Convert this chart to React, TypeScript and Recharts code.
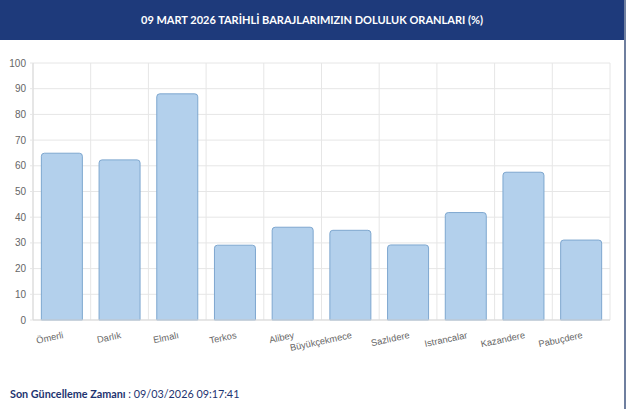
import React from "react";
import { BarChart, Bar, XAxis, YAxis, CartesianGrid } from "recharts";

const dams = ["Ömerli", "Darlık", "Elmalı", "Terkos", "Alibey", "Büyükçekmece", "Sazlıdere", "Istrancalar", "Kazandere", "Pabuçdere"];
const fillRates = [64.9, 62.3, 88.0, 29.1, 36.1, 34.9, 29.2, 41.8, 57.5, 31.1];
const yTicks = [0, 10, 20, 30, 40, 50, 60, 70, 80, 90, 100];
const title = "09 MART 2026 TARİHLİ BARAJLARIMIZIN DOLULUK ORANLARI (%)";
const updateLabel = "Son Güncelleme Zamanı";
const updateValue = "09/03/2026 09:17:41";

const data = dams.map((name, i) => ({ name, value: fillRates[i] }));

const XTick = (props: any) => {
  const { x, y, payload } = props;
  return (
    <text
      x={0}
      y={0}
      textAnchor="end"
      fontSize={9.3}
      fill="#666"
      fontFamily="'Liberation Sans', Arial, sans-serif"
      transform={`translate(${x + 2},${y + 11}) rotate(-12)`}
    >
      {payload.value}
    </text>
  );
};

export default function App() {
  const n = dams.length;
  return (
    <div style={{ position: "fixed", left: 0, top: 0, width: 640, height: 409, background: "#fff", overflow: "hidden" }}>
      <div style={{ position: "absolute", left: 0, top: 0 }}>
        <BarChart
          width={640}
          height={409}
          data={data}
          margin={{ top: 63, right: 30, bottom: 49, left: 0 }}
          barCategoryGap="14.5%"
        >
          <CartesianGrid
            stroke="#e6e6e6"
            verticalCoordinatesGenerator={({ offset }: any) =>
              Array.from({ length: n + 1 }, (_, i) => offset.left + (i * offset.width) / n)
            }
          />
          <XAxis
            dataKey="name"
            height={40}
            interval={0}
            tickLine={false}
            tickSize={5}
            tickMargin={2}
            axisLine={{ stroke: "#d9d9d9" }}
            tick={<XTick />}
          />
          <YAxis
            width={33}
            domain={[0, 100]}
            ticks={yTicks}
            interval={0}
            tickSize={3}
            tickMargin={4}
            axisLine={{ stroke: "#d9d9d9" }}
            tickLine={{ stroke: "#e6e6e6" }}
            tick={{ fontSize: 10, fill: "#666", fontFamily: "'Liberation Sans', Arial, sans-serif" }}
          />
          <Bar
            dataKey="value"
            fill="#b3d0ec"
            stroke="#7ea7cf"
            strokeWidth={1}
            radius={[3, 3, 0, 0]}
            isAnimationActive={false}
          />
        </BarChart>
      </div>
      <div
        style={{
          position: "absolute",
          left: 0,
          top: 0,
          width: 624,
          height: 40,
          background: "#1e3a7b",
          color: "#fff",
          fontFamily: "Lato, sans-serif",
          fontWeight: 700,
          fontSize: 11,
          lineHeight: "40px",
          textAlign: "center",
        }}
      >
        {title}
      </div>
      <div style={{ position: "absolute", left: 624, top: 0, width: 1.5, height: 409, background: "#6f7f9f" }} />
      <div
        style={{
          position: "absolute",
          left: 10,
          top: 387,
          fontFamily: "Lato, sans-serif",
          fontSize: 10.8,
          lineHeight: "14px",
          color: "#1e3470",
          whiteSpace: "nowrap",
        }}
      >
        <span style={{ fontWeight: 700 }}>{updateLabel}</span> : {updateValue}
      </div>
    </div>
  );
}
